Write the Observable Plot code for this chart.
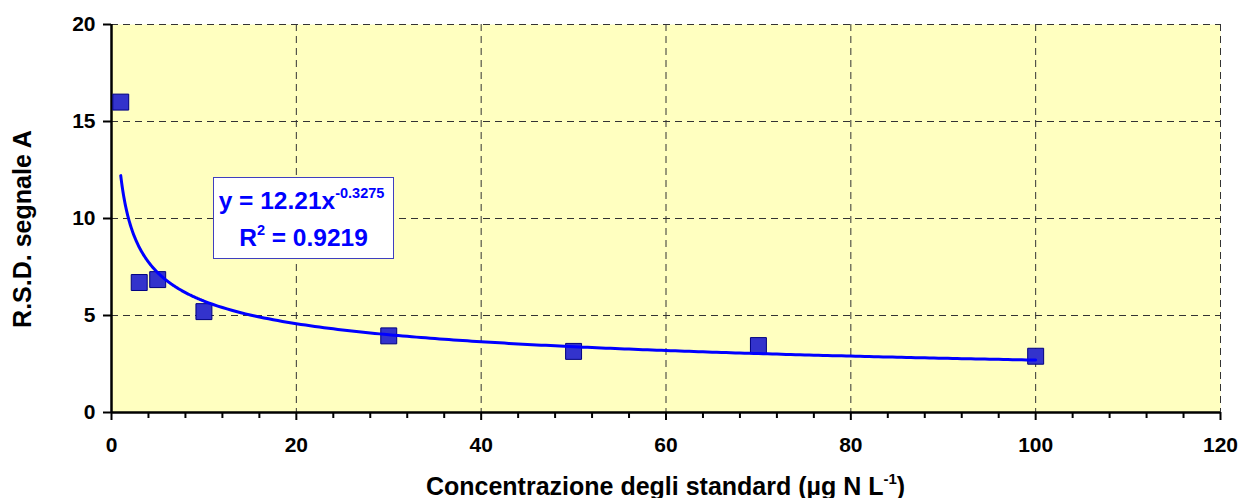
<!DOCTYPE html>
<html>
<head>
<meta charset="utf-8">
<script src="https://cdn.jsdelivr.net/npm/d3@7"></script>
<script src="https://cdn.jsdelivr.net/npm/@observablehq/plot@0.6"></script>
<style>
  body { margin: 0; background: #ffffff; }
  #chart { width: 1239px; height: 498px; }
</style>
</head>
<body>
<div id="chart"></div>
<script>
// ---- data ----
const concentrations = [1, 3, 5, 10, 30, 50, 70, 100];
const rsdSignalA = [16.0, 6.7, 6.85, 5.2, 3.95, 3.15, 3.45, 2.9];
const xMajorTicks = [0, 20, 40, 60, 80, 100, 120];
const xMinorTicks = [4, 8, 12, 16, 24, 28, 32, 36, 44, 48, 52, 56, 64, 68, 72, 76, 84, 88, 92, 96, 104, 108, 112, 116];
const yTicks = [0, 5, 10, 15, 20];
// power trendline shown on the chart: y = 12.21 x^-0.3275, R² = 0.9219
const trendCoef = 12.21;
const trendExponent = -0.3275;
const trendLabelCoef = "12.21";
const trendLabelExp = "-0.3275";
const trendLabelR2 = "0.9219";
const yTitle = "R.S.D. segnale A";
const xTitleMain = "Concentrazione degli standard (µg N L";
const xTitleSup = "-1";
const xTitleEnd = ")";

const points = concentrations.map((x, i) => ({x, y: rsdSignalA[i]}));
const trendX = d3.range(1, 10, 0.05).concat(d3.range(10, 100.001, 0.5));
const trend = trendX.map(x => ({x, y: trendCoef * Math.pow(x, trendExponent)}));

const font = "'Liberation Sans', Arial, Helvetica, sans-serif";

const chart = Plot.plot({
  width: 1239,
  height: 498,
  marginLeft: 111,
  marginRight: 19,
  marginTop: 24,
  marginBottom: 86,
  style: {fontFamily: font, fontWeight: "bold", background: "#ffffff", color: "#000000", overflow: "visible"},
  x: {domain: [0, 120]},
  y: {domain: [0, 20]},
  marks: [
    Plot.frame({fill: "#FFFFC0", stroke: "none"}),
    Plot.gridX(xMajorTicks.filter(d => d > 0), {stroke: "#333333", strokeOpacity: 1, strokeWidth: 1, strokeDasharray: "7,5"}),
    Plot.gridY(yTicks.filter(d => d > 0), {stroke: "#333333", strokeOpacity: 1, strokeWidth: 1, strokeDasharray: "7,5"}),
    Plot.axisX(xMinorTicks, {tickSize: 6, fill: "none", label: null, strokeWidth: 2, stroke: "#000"}),
    Plot.axisX(xMajorTicks, {tickSize: 8, tickPadding: 17, fontSize: 21, fontWeight: "bold", label: null, strokeWidth: 2, stroke: "#000", fill: "#000"}),
    Plot.axisY(yTicks, {tickSize: 8, tickPadding: 8, fontSize: 21, fontWeight: "bold", label: null, strokeWidth: 2, stroke: "#000", fill: "#000"}),
    Plot.ruleX([0], {stroke: "#000", strokeWidth: 2.5}),
    Plot.ruleY([0], {stroke: "#000", strokeWidth: 2.5}),
    Plot.dot(points, {x: "x", y: "y", symbol: "square", r: 9, fill: "#3333CC", stroke: "#000080", strokeWidth: 1}),
    Plot.line(trend, {x: "x", y: "y", stroke: "#0000FF", strokeWidth: 3})
  ]
});

document.getElementById("chart").appendChild(chart);

const svg = d3.select(chart);
const xs = chart.scale("x");

// Y axis title
svg.append("text")
  .attr("transform", `translate(31,229) rotate(-90)`)
  .attr("text-anchor", "middle")
  .attr("font-family", font).attr("font-weight", "bold").attr("font-size", 25)
  .attr("fill", "#000")
  .text(yTitle);

// X axis title
const xt = svg.append("text")
  .attr("x", (xs.range[0] + xs.range[1]) / 2)
  .attr("y", 495)
  .attr("text-anchor", "middle")
  .attr("font-family", font).attr("font-weight", "bold").attr("font-size", 25)
  .attr("fill", "#000");
xt.append("tspan").text(xTitleMain);
xt.append("tspan").attr("font-size", 15).attr("dy", -11).text(xTitleSup);
xt.append("tspan").attr("dy", 11).text(xTitleEnd);

// Trendline label box
const bx = 213.5, by = 177.5, bw = 180, bh = 81;
const g = svg.append("g");
g.append("rect").attr("x", bx).attr("y", by).attr("width", bw).attr("height", bh)
  .attr("fill", "#ffffff").attr("stroke", "#3F3FBF").attr("stroke-width", 1);
const t1 = g.append("text").attr("x", bx + bw / 2 - 2).attr("y", 209)
  .attr("text-anchor", "middle").attr("font-family", font).attr("font-weight", "bold")
  .attr("font-size", 24.5).attr("fill", "#0000FF");
t1.append("tspan").text(`y = ${trendLabelCoef}x`);
t1.append("tspan").attr("font-size", 14.5).attr("dy", -11).text(trendLabelExp);
const t2 = g.append("text").attr("x", bx + bw / 2).attr("y", 246)
  .attr("text-anchor", "middle").attr("font-family", font).attr("font-weight", "bold")
  .attr("font-size", 24.5).attr("fill", "#0000FF");
t2.append("tspan").text("R");
t2.append("tspan").attr("font-size", 14.5).attr("dy", -11).text("2");
t2.append("tspan").attr("dy", 11).text(` = ${trendLabelR2}`);
</script>
</body>
</html>
